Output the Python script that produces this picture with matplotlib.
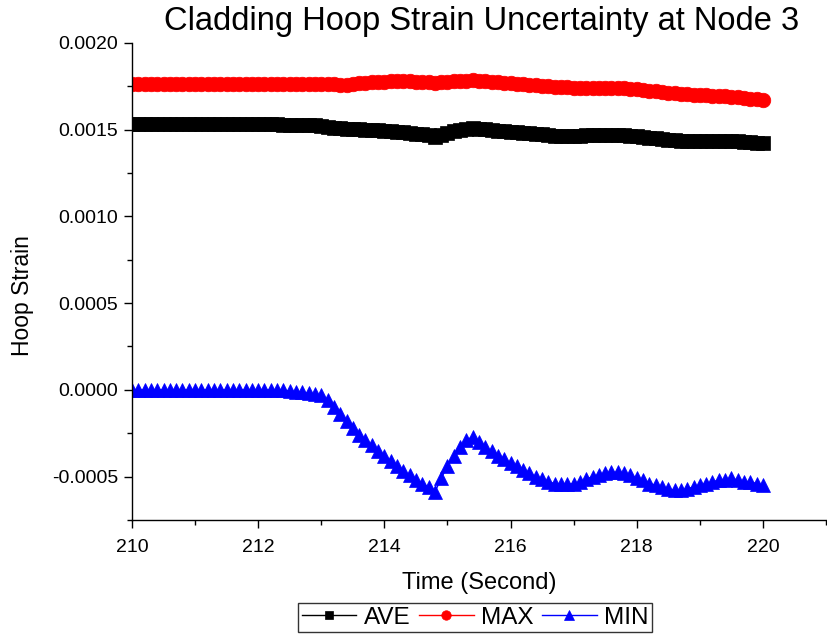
import numpy as np
import matplotlib
matplotlib.use("Agg")
import matplotlib.pyplot as plt
from matplotlib.ticker import MultipleLocator, FormatStrFormatter

plt.rcParams['font.family'] = ['Liberation Sans', 'DejaVu Sans']

# sample times, 0.1 s step from 210 to 220
time = np.linspace(210, 220, 101)

# hoop strain values, in units of 1e-4
ave = ([15.3] * 24
       + [15.29, 15.28, 15.27, 15.26, 15.25, 15.24, 15.23]
       + [15.17, 15.12, 15.08, 15.06, 15.04, 15.02, 15.00, 14.98, 14.96,
          14.93, 14.90, 14.87, 14.84, 14.80, 14.76, 14.72, 14.67, 14.60]
       + [14.70, 14.80, 14.90, 14.98, 15.05, 15.10]
       + [15.06, 15.02, 14.98, 14.94, 14.90, 14.87, 14.84, 14.81, 14.78,
          14.75, 14.72, 14.69, 14.66, 14.63]
       + [14.64, 14.65, 14.66, 14.67, 14.68, 14.69, 14.70, 14.70, 14.71]
       + [14.69, 14.66, 14.62, 14.58, 14.54, 14.50, 14.46, 14.42, 14.38, 14.36]
       + [14.35, 14.35, 14.35, 14.35, 14.36, 14.36, 14.36, 14.36]
       + [14.33, 14.30, 14.27, 14.23, 14.20])

vmax = ([17.65] * 29
        + [17.64, 17.63, 17.62, 17.61, 17.60, 17.60, 17.62]
        + [17.66, 17.70, 17.74, 17.76, 17.77]
        + [17.78, 17.79, 17.79, 17.78, 17.77, 17.75]
        + [17.72, 17.70]
        + [17.72, 17.75, 17.78, 17.81, 17.83, 17.84]
        + [17.82, 17.79, 17.76, 17.73, 17.70, 17.67, 17.64, 17.61, 17.58,
           17.55, 17.52, 17.49, 17.46, 17.44]
        + [17.43, 17.42, 17.42, 17.42, 17.42, 17.42, 17.42, 17.41, 17.40]
        + [17.38, 17.35, 17.32, 17.28, 17.24, 17.20, 17.16, 17.12, 17.09, 17.06]
        + [17.04, 17.02, 17.00, 16.98, 16.96, 16.94, 16.92, 16.90]
        + [16.87, 16.83, 16.79, 16.75, 16.70])

vmin = ([0.0] * 24
        + [-0.03, -0.06, -0.1, -0.15, -0.2, -0.25, -0.3]
        + [-0.6, -1.0, -1.4, -1.8, -2.2, -2.6, -2.9, -3.2, -3.5,
           -3.8, -4.1, -4.4, -4.7, -4.9, -5.2, -5.4, -5.6, -5.9]
        + [-5.1, -4.4, -3.8, -3.3, -2.9, -2.7]
        + [-3.0, -3.3, -3.55, -3.8, -4.0, -4.2, -4.4, -4.6, -4.8,
           -5.0, -5.15, -5.3, -5.4, -5.45]
        + [-5.45, -5.4, -5.3, -5.15, -5.0, -4.9, -4.8, -4.75, -4.75]
        + [-4.8, -4.9, -5.1, -5.2, -5.4, -5.5, -5.6, -5.7, -5.8, -5.8]
        + [-5.7, -5.6, -5.5, -5.4, -5.3, -5.2, -5.2, -5.1]
        + [-5.2, -5.3, -5.3, -5.4, -5.5])

scale = 1e-4
series = [('AVE', ave, 'black', 's', 9.5),
          ('MAX', vmax, 'red', 'o', 10.5),
          ('MIN', vmin, 'blue', '^', 10.5)]

fig = plt.figure(figsize=(8.27, 6.37), dpi=100)
ax = fig.add_axes([0.1596, 0.1837, 0.8392, 0.749])

for name, vals, col, mk, ms in series:
    ax.plot(time, np.array(vals) * scale, color=col, marker=mk, markersize=ms,
            markeredgecolor=col, markeredgewidth=0.5, linewidth=1, label=name)

ax.set_xlim(210, 221)
ax.set_ylim(-0.00075, 0.002)
ax.xaxis.set_major_locator(MultipleLocator(2))
ax.xaxis.set_minor_locator(MultipleLocator(1))
ax.yaxis.set_major_locator(MultipleLocator(0.0005))
ax.yaxis.set_minor_locator(MultipleLocator(0.00025))
ax.yaxis.set_major_formatter(FormatStrFormatter('%.4f'))

ax.spines['top'].set_visible(False)
ax.spines['right'].set_visible(False)
for s in ['left', 'bottom']:
    ax.spines[s].set_linewidth(1.0)
ax.tick_params(which='major', direction='out', length=6, width=1,
               labelsize=14, pad=4)
ax.tick_params(axis='x', which='major', pad=8)
ax.tick_params(which='minor', direction='out', length=3.5, width=1)

ax.set_xlabel('Time (Second)', fontsize=17, labelpad=11)
ax.set_ylabel('Hoop Strain', fontsize=16.5)
ax.yaxis.set_label_coords(-0.141, 0.47)
fig.text(0.582, 0.966, 'Cladding Hoop Strain Uncertainty at Node 3',
         fontsize=23.5, ha='center', va='center')

leg = ax.legend(loc='center', bbox_to_anchor=(0.5744, 0.0306),
                bbox_transform=fig.transFigure, ncol=3, fontsize=17.5,
                frameon=True, fancybox=False, edgecolor='black',
                markerscale=0.65, handlelength=2.25, handletextpad=0.3,
                columnspacing=0.35, borderpad=0.15, borderaxespad=0)
leg.get_frame().set_linewidth(1.0)

fig.savefig('out.png', dpi=100)
